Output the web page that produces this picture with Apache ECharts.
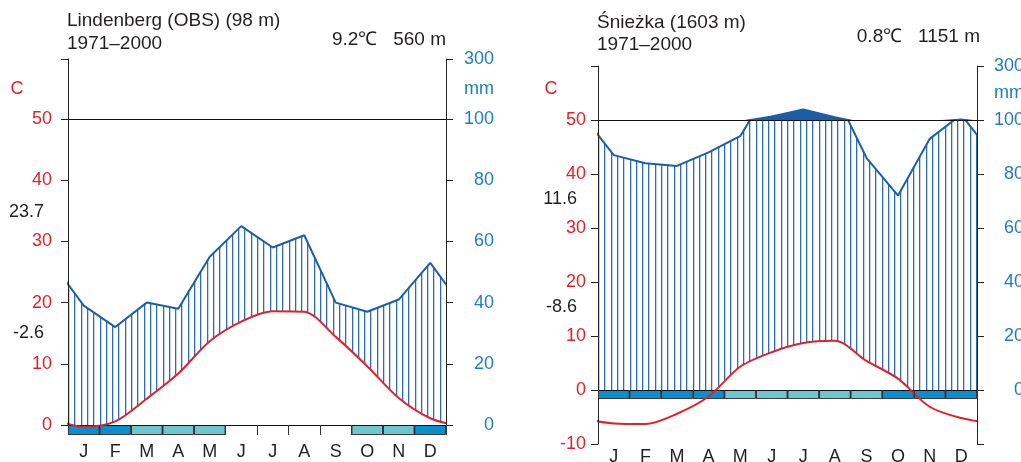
<!DOCTYPE html>
<html>
<head>
<meta charset="utf-8">
<script src="https://cdn.jsdelivr.net/npm/echarts@6/dist/echarts.min.js"></script>
<style>
  html, body { margin: 0; padding: 0; background: #fff; }
  #chart { width: 1021px; height: 462px; }
</style>
</head>
<body>
<div id="chart"></div>
<script>
// ---- data -------------------------------------------------------------
const months = ['J', 'F', 'M', 'A', 'M', 'J', 'J', 'A', 'S', 'O', 'N', 'D'];

// Lindenberg (OBS), 98 m, 1971–2000: mean temperature (°C), precipitation (mm)
const lindenbergTemp   = [-0.3, 0.6, 4.3, 8.4, 13.7, 16.9, 18.6, 18.5, 14.4, 9.6, 4.4, 1.1];
const lindenbergPrecip = [39, 32, 40, 38, 55, 65, 58, 62, 40, 37, 41, 53];
// frost bar: 2 = frost month, 1 = frost possible, 0 = frost-free
const lindenbergFrost  = [2, 2, 1, 1, 1, 0, 0, 0, 0, 1, 1, 2];

// Śnieżka, 1603 m, 1971–2000
const sniezkaTemp   = [-6.2, -6.3, -4.4, -1.2, 4.3, 7.0, 8.7, 9.1, 5.4, 2.1, -3.1, -5.2];
const sniezkaPrecip = [87, 84, 83, 88, 94, 113, 139, 110, 86, 72, 93, 102];
const sniezkaFrost  = [2, 2, 2, 2, 1, 1, 1, 1, 1, 2, 2, 2];

// axis ticks
const tempTicksLindenberg   = [0, 10, 20, 30, 40, 50];
const tempTicksSniezka      = [-10, 0, 10, 20, 30, 40, 50];
const precipTicks           = [0, 20, 40, 60, 80, 100];
const precipTickMarksSniezka = [-20, 0, 20, 40, 60, 80, 100];

// ---- styles -----------------------------------------------------------
const FONT = '"Liberation Sans", Arial, Helvetica, sans-serif';
const TEXT = '#231f20';
const AXIS = '#222';
const RED = '#ec1c24';
const BLUE_TXT = '#1d7dc5';
const PRECIP_LINE = '#1b5fa9';
const PERHUMID = '#1a5ca6';
const TEMP_LINE = '#e3202a';
const FROST_SURE = '#0b8ecf';
const FROST_POSSIBLE = '#6fc6d1';

// vertical hatching for the humid period (repeats every 63 px, 10 lines)
function hatchPattern(offset) {
  const c = document.createElement('canvas');
  c.width = 63; c.height = 4;
  const ctx = c.getContext('2d');
  for (let k = 0; k < 10; k++) {
    const x = (offset + Math.round(k * 6.3)) % 63;
    ctx.fillStyle = '#2d6cb0';
    ctx.fillRect(x, 0, 1, 4);
    ctx.fillStyle = 'rgba(45,108,176,0.3)';
    ctx.fillRect((x + 1) % 63, 0, 1, 4);
  }
  return c;
}

// monthly points at mid-month plus the neighbouring months on both sides,
// so the curve runs through the panel edges (clipped by the grid)
function cyclic(values) {
  const pts = values.map((v, i) => [i + 0.5, v]);
  return [[-0.5, values[11]]].concat(pts, [[12.5, values[0]]]);
}

const grids = [], xAxes = [], yAxes = [], series = [], graphics = [];

function buildPanel(p) {
  const g = grids.length, xi = xAxes.length, yi = yAxes.length;
  const lowerH = (p.zeroY - p.lowerTop) * (p.tempMax - p.tempMin) / p.tempMax;
  const gridBase = { left: p.left, width: p.width, containLabel: false, outerBoundsMode: 'none' };
  grids.push(Object.assign({ top: p.lowerTop, height: lowerH }, gridBase));          // 0–100 mm
  grids.push(Object.assign({ top: p.upperTop, height: p.lowerTop - p.upperTop }, gridBase)); // 100–300 mm
  grids.push(Object.assign({ top: p.stripTop, height: p.stripHeight }, gridBase));   // frost bar

  const hiddenX = (gi) => ({ gridIndex: gi, type: 'value', min: 0, max: 12, show: false });
  xAxes.push(hiddenX(g), hiddenX(g + 1));
  xAxes.push({
    gridIndex: g + 2, type: 'category', data: months, position: 'top', z: 10,
    axisLine: { show: false, onZero: false },
    axisTick: { show: true, inside: true, length: p.stripHeight, lineStyle: { color: '#333' } },
    axisLabel: { show: false }
  });
  xAxes.push({
    gridIndex: g + 2, type: 'category', data: months, position: 'bottom',
    axisLine: { show: false, onZero: false }, axisTick: { show: false },
    axisLabel: { show: true, interval: 0, color: TEXT, fontSize: 18, fontFamily: FONT, margin: p.monthMargin }
  });

  const line = { show: true, onZero: false, lineStyle: { color: AXIS, width: 1 } };
  const tick = (vals) => ({ show: true, length: 7, customValues: vals, lineStyle: { color: AXIS, width: 1 } });
  // lower grid: temperature (left), precipitation 0–100 (right)
  yAxes.push({
    gridIndex: g, type: 'value', position: 'left', min: p.tempMin, max: p.tempMax, z: 10,
    axisLine: line, axisTick: tick(p.tempTicks), splitLine: { show: false },
    axisLabel: { customValues: p.tempTicks, color: RED, fontSize: 18, fontFamily: FONT, margin: p.leftMargin }
  });
  yAxes.push({
    gridIndex: g, type: 'value', position: 'right', min: p.tempMin * 2, max: 100, z: 10,
    axisLine: line, axisTick: tick(p.precipTickMarks), splitLine: { show: false },
    axisLabel: { customValues: precipTicks, color: BLUE_TXT, fontSize: 18, fontFamily: FONT,
                 margin: p.rightMargin, align: 'right' }
  });
  // upper grid: 50–60 °C (left), 100–300 mm (right)
  yAxes.push({
    gridIndex: g + 1, type: 'value', position: 'left', min: 50, max: 60, z: 10,
    axisLine: line, axisTick: tick([60]), splitLine: { show: false }, axisLabel: { show: false }
  });
  yAxes.push({
    gridIndex: g + 1, type: 'value', position: 'right', min: 100, max: 300, z: 10,
    axisLine: line, axisTick: tick([300]), splitLine: { show: false },
    axisLabel: { customValues: [200, 300], formatter: (v) => (v === 200 ? 'mm' : String(v)),
                 color: BLUE_TXT, fontSize: 18, fontFamily: FONT, margin: p.rightMargin, align: 'right' }
  });
  yAxes.push({ gridIndex: g + 2, type: 'value', min: 0, max: 1, show: false });

  const precipData = cyclic(p.precip);
  const tempData = cyclic(p.temp);
  const noSymbol = { symbol: 'none', silent: true, animation: false };

  // humid period: hatched area between precipitation and 0 mm
  series.push(Object.assign({
    type: 'line', xAxisIndex: xi, yAxisIndex: yi + 1, data: precipData, z: 2,
    lineStyle: { color: PRECIP_LINE, width: 2 },
    areaStyle: { color: { image: hatchPattern(p.hatchOffset), repeat: 'repeat' }, origin: 0, opacity: 1 }
  }, noSymbol));
  // perhumid part above 100 mm, solid fill
  series.push(Object.assign({
    type: 'line', xAxisIndex: xi + 1, yAxisIndex: yi + 3, data: precipData, z: 2,
    lineStyle: { color: PRECIP_LINE, width: 2 },
    areaStyle: { color: PERHUMID, origin: 'start', opacity: 1 }
  }, noSymbol));
  // white mask under the temperature curve keeps the hatching above it
  series.push(Object.assign({
    type: 'line', xAxisIndex: xi, yAxisIndex: yi, data: tempData, z: 3, smooth: 0.3,
    lineStyle: { opacity: 0 },
    areaStyle: { color: '#ffffff', origin: 'start', opacity: 1 }
  }, noSymbol));
  // frost bar
  series.push({
    type: 'bar', xAxisIndex: xi + 3, yAxisIndex: yi + 4, z: 4, silent: true, animation: false,
    barCategoryGap: '0%',
    itemStyle: { borderColor: '#3a3a3a', borderWidth: 1 },
    data: p.frost.map((f) => (f ? { value: 1, itemStyle: { color: f === 2 ? FROST_SURE : FROST_POSSIBLE } } : '-'))
  });
  // reference lines at 0 °C and 50 °C / 100 mm
  series.push(Object.assign({
    type: 'line', xAxisIndex: xi, yAxisIndex: yi, data: [],
    markLine: {
      silent: true, animation: false, symbol: ['none', 'none'], label: { show: false },
      lineStyle: { color: '#111', width: 1, type: 'solid' },
      data: [{ yAxis: 0 }, { yAxis: 50 }]
    }
  }, noSymbol));
  // temperature curve
  series.push(Object.assign({
    type: 'line', xAxisIndex: xi, yAxisIndex: yi, data: tempData, z: 6, smooth: 0.3,
    lineStyle: { color: TEMP_LINE, width: 2 }
  }, noSymbol));

  const txt = (x, y, text, align, color, size) => ({
    type: 'text', x: x, y: y, z: 20, silent: true,
    style: { text: text, fill: color || TEXT, fontSize: size || 19, fontFamily: FONT,
             align: align || 'left', verticalAlign: 'middle' }
  });
  graphics.push(
    txt(p.titleX, p.titleY1, p.title),
    txt(p.titleX, p.titleY2, '1971–2000'),
    txt(p.left + p.width + p.meanDx, p.meanY, p.meanText, 'right'),
    txt(p.cX, 89, 'C', 'center', RED, 18),
    txt(p.sideX, p.maxY, p.maxText, 'right', TEXT, 18),
    txt(p.sideX, p.minY, p.minText, 'right', TEXT, 18)
  );
}

buildPanel({
  title: 'Lindenberg (OBS) (98 m)', meanText: '9.2℃   560 m',
  temp: lindenbergTemp, precip: lindenbergPrecip, frost: lindenbergFrost,
  tempTicks: tempTicksLindenberg, precipTickMarks: precipTicks,
  left: 68, width: 378, upperTop: 59, lowerTop: 119, zeroY: 425, tempMin: -1.5, tempMax: 50,
  stripTop: 425, stripHeight: 10, monthMargin: 8, leftMargin: 16, rightMargin: 48, hatchOffset: 5,
  titleX: 67, titleY1: 21, titleY2: 43.4, meanDx: 0, meanY: 39.4,
  cX: 17, sideX: 44, maxText: '23.7', maxY: 212, minText: '-2.6', minY: 333
});

buildPanel({
  title: 'Śnieżka (1603 m)', meanText: '0.8℃   1151 m',
  temp: sniezkaTemp, precip: sniezkaPrecip, frost: sniezkaFrost,
  tempTicks: tempTicksSniezka, precipTickMarks: precipTickMarksSniezka,
  left: 598, width: 379, upperTop: 66, lowerTop: 120, zeroY: 390, tempMin: -10, tempMax: 50,
  stripTop: 390, stripHeight: 9, monthMargin: 49, leftMargin: 12, rightMargin: 47, hatchOffset: 31,
  titleX: 597, titleY1: 22.7, titleY2: 45.1, meanDx: 3, meanY: 36.7,
  cX: 551, sideX: 577, maxText: '11.6', maxY: 199.5, minText: '-8.6', minY: 307
});

const chart = echarts.init(document.getElementById('chart'), null, { renderer: 'canvas' });
chart.setOption({
  backgroundColor: '#ffffff',
  animation: false,
  grid: grids,
  xAxis: xAxes,
  yAxis: yAxes,
  series: series,
  graphic: graphics
});
</script>
</body>
</html>
